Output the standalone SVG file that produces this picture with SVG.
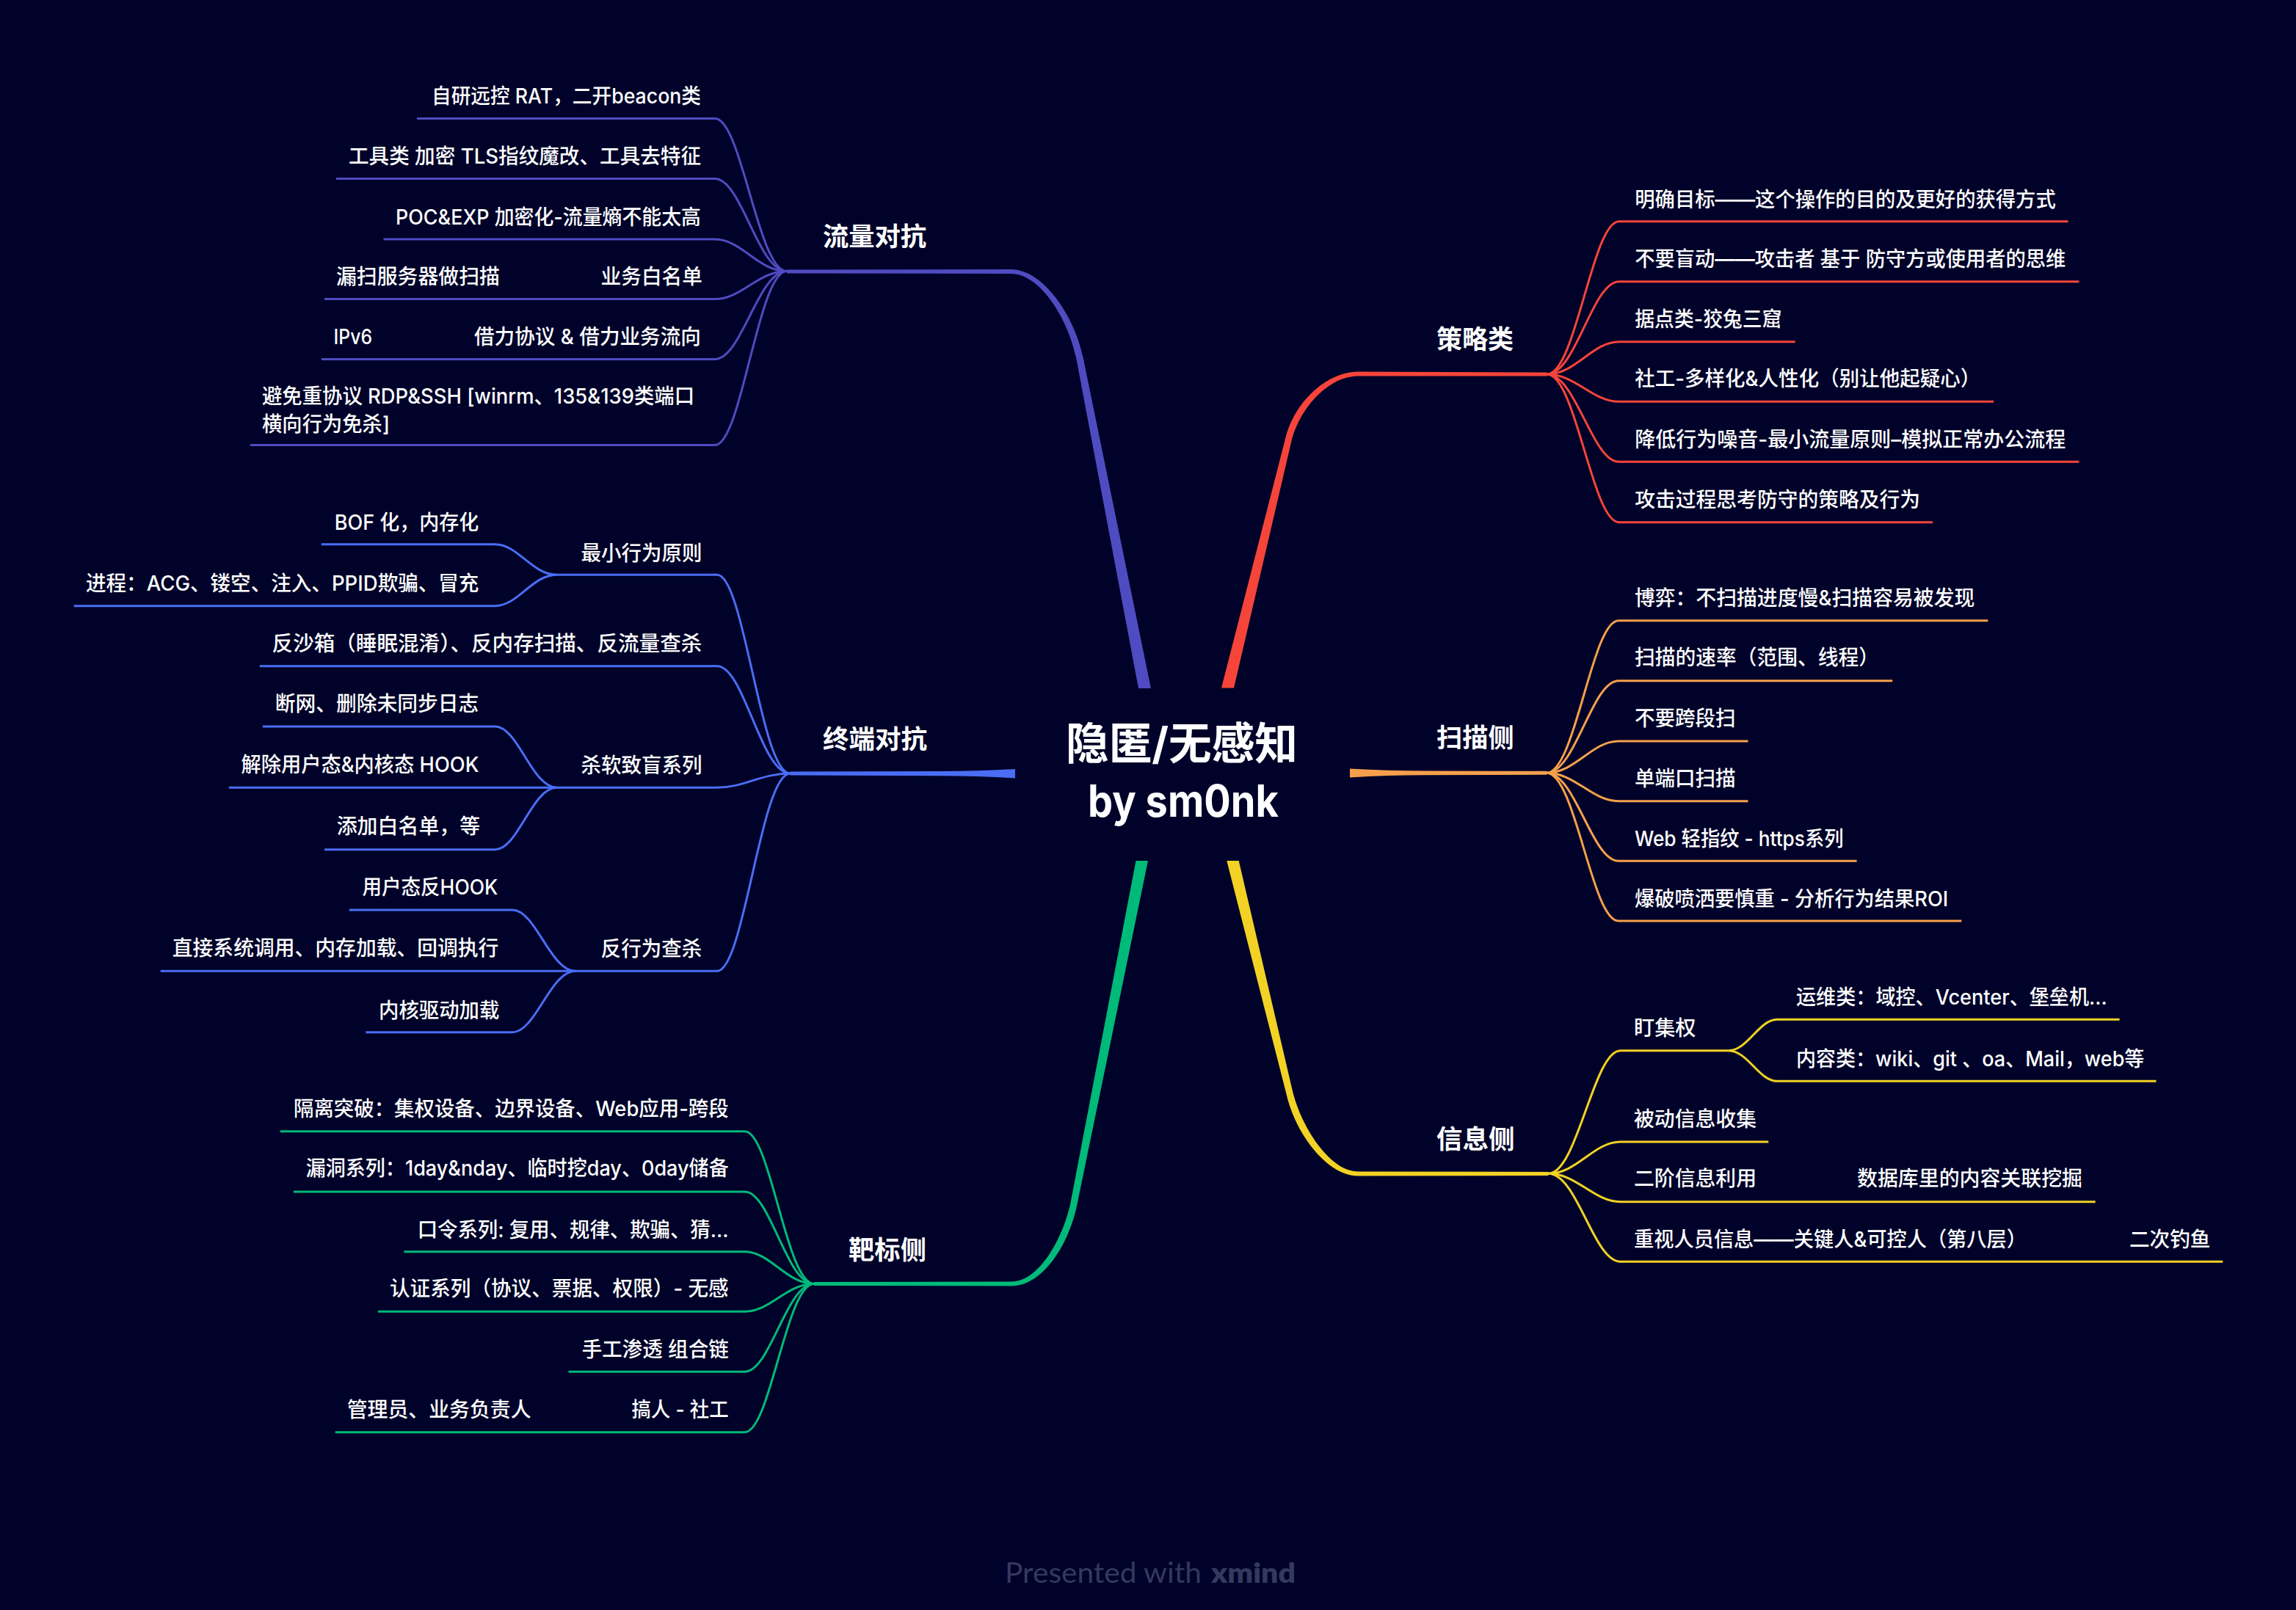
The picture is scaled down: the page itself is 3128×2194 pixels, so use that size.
<svg xmlns="http://www.w3.org/2000/svg" width="3128" height="2194" viewBox="0 0 3128 2194">
<defs>
<style>
.t{font-family:Inter,"Noto Sans CJK SC","Noto Sans",sans-serif;fill:#ffffff}
.c{font-size:28px;font-weight:500}
.m{font-size:35px;font-weight:700}
.ctr{font-size:60px;font-weight:700}
.ln{fill:none;stroke-width:3;stroke-linecap:butt}
.p1{stroke:#4F4BC1}.f1{fill:#4F4BC1}
.p2{stroke:#4A6DF5}.f2{fill:#4A6DF5}
.p3{stroke:#00BA7A}.f3{fill:#00BA7A}
.p4{stroke:#F5453A}.f4{fill:#F5453A}
.p5{stroke:#F6A04C}.f5{fill:#F6A04C}
.p6{stroke:#F2D224}.f6{fill:#F2D224}
.foot{font-family:Lato,"Open Sans",sans-serif;font-size:38px;fill:#35385F}
</style>
</defs>
<rect x="0" y="0" width="3128" height="2194" fill="#000229"/>

<g id="connectors">
<!-- main branches -->
<path class="f1" d="M1568,938 L1475.8,488 C1464.5,432 1422,367 1377,367 L1072,367.5 L1072,372.5 L1377,373 C1418,373 1455.5,436 1466.2,488 L1551,938 Z"/>
<path class="f2" d="M1383,1048 Q1330,1051 1280,1051 L1076.5,1051.6 L1076.5,1056.6 L1280,1057.2 Q1330,1057.2 1383,1060.4 Z"/>
<path class="f3" d="M1547.5,1173 L1458.3,1640 C1448,1687 1416,1746.5 1378,1746.5 L1109,1747 L1109,1752 L1378,1752.5 C1421,1752.5 1457,1695 1467.7,1640 L1564,1173 Z"/>
<path class="f4" d="M1664,937.5 L1750.5,600 C1762,548 1808,506.5 1850,506.5 L2107.6,507.5 L2107.6,512.5 L1850,512.5 C1812,512.5 1772,553 1759.7,600 L1681,937.5 Z"/>
<path class="f5" d="M1839,1047.5 Q1892,1050.5 1942,1050.5 L2107,1050.8 L2107,1055.8 L1942,1056.2 Q1892,1056.2 1839,1059.5 Z"/>
<path class="f6" d="M1671.3,1173 L1752.3,1490 C1764,1544 1808,1602.5 1850,1602.5 L2109.5,1602 L2109.5,1597 L1850,1596.5 C1812,1596.5 1774,1537 1761.7,1490 L1687.7,1173 Z"/>

<!-- 流量对抗 children -->
<path class="ln p1" d="M1072,369.6 C1032.8,369.6 1010.3,161.6 974,161.6 H568"/>
<path class="ln p1" d="M1072,369.6 C1032.8,369.6 1010.3,243.6 974,243.6 H458"/>
<path class="ln p1" d="M1072,369.6 C1032.8,369.6 1010.3,326 974,326 H522.5"/>
<path class="ln p1" d="M1072,369.6 C1032.8,369.6 1010.3,407.5 974,407.5 H442"/>
<path class="ln p1" d="M1072,369.6 C1032.8,369.6 1010.3,489.5 974,489.5 H438"/>
<path class="ln p1" d="M1072,369.6 C1032.8,369.6 1010.3,606.5 974,606.5 H341"/>

<!-- 终端对抗 children -->
<path class="ln p2" d="M1076.5,1054 C1036.7,1054 1013.8,783.3 977,783.3 H758.5"/>
<path class="ln p2" d="M1076.5,1054 C1036.7,1054 1013.8,907.7 977,907.7 H353.8"/>
<path class="ln p2" d="M1076.5,1054 C1036.7,1054 1013.8,1073.3 977,1073.3 H758.5"/>
<path class="ln p2" d="M1076.5,1054 C1036.7,1054 1013.8,1323.3 977,1323.3 H784"/>
<path class="ln p2" d="M758.5,783.3 C724.9,783.3 705.6,741.7 674.5,741.7 H437.7"/>
<path class="ln p2" d="M758.5,783.3 C724.9,783.3 705.6,825.7 674.5,825.7 H100.8"/>
<path class="ln p2" d="M758.5,1073.3 C724.9,1073.3 705.6,990 674.5,990 H358"/>
<path class="ln p2" d="M758.5,1073.3 H311.8"/>
<path class="ln p2" d="M758.5,1073.3 C724.9,1073.3 705.6,1157.7 674.5,1157.7 H442"/>
<path class="ln p2" d="M784,1323.3 C749.6,1323.3 729.8,1240 698,1240 H475.8"/>
<path class="ln p2" d="M784,1323.3 H218.7"/>
<path class="ln p2" d="M784,1323.3 C749.6,1323.3 729.8,1406.7 698,1406.7 H498.3"/>

<!-- 靶标侧 children -->
<path class="ln p3" d="M1109,1749.5 C1071.2,1749.5 1049.5,1541.7 1014.5,1541.7 H381.8"/>
<path class="ln p3" d="M1109,1749.5 C1071.2,1749.5 1049.5,1624 1014.5,1624 H400"/>
<path class="ln p3" d="M1109,1749.5 C1071.2,1749.5 1049.5,1705.7 1014.5,1705.7 H550.5"/>
<path class="ln p3" d="M1109,1749.5 C1071.2,1749.5 1049.5,1787.3 1014.5,1787.3 H515"/>
<path class="ln p3" d="M1109,1749.5 C1071.2,1749.5 1049.5,1869.3 1014.5,1869.3 H774.5"/>
<path class="ln p3" d="M1109,1749.5 C1071.2,1749.5 1049.5,1951.7 1014.5,1951.7 H456.7"/>

<!-- 策略类 children -->
<path class="ln p4" d="M2107.6,510 C2146.8,510 2169.3,301.7 2205.7,301.7 H2817.6"/>
<path class="ln p4" d="M2107.6,510 C2146.8,510 2169.3,383.7 2205.7,383.7 H2832.5"/>
<path class="ln p4" d="M2107.6,510 C2146.8,510 2169.3,465.7 2205.7,465.7 H2445.7"/>
<path class="ln p4" d="M2107.6,510 C2146.8,510 2169.3,547.3 2205.7,547.3 H2716.2"/>
<path class="ln p4" d="M2107.6,510 C2146.8,510 2169.3,629.3 2205.7,629.3 H2832.5"/>
<path class="ln p4" d="M2107.6,510 C2146.8,510 2169.3,711.7 2205.7,711.7 H2633"/>

<!-- 扫描侧 children -->
<path class="ln p5" d="M2107,1053.3 C2146.2,1053.3 2168.7,845.7 2205,845.7 H2708.3"/>
<path class="ln p5" d="M2107,1053.3 C2146.2,1053.3 2168.7,927.7 2205,927.7 H2578.2"/>
<path class="ln p5" d="M2107,1053.3 C2146.2,1053.3 2168.7,1010 2205,1010 H2381.5"/>
<path class="ln p5" d="M2107,1053.3 C2146.2,1053.3 2168.7,1091.7 2205,1091.7 H2381.5"/>
<path class="ln p5" d="M2107,1053.3 C2146.2,1053.3 2168.7,1173.3 2205,1173.3 H2529.6"/>
<path class="ln p5" d="M2107,1053.3 C2146.2,1053.3 2168.7,1255 2205,1255 H2672.3"/>

<!-- 信息侧 children -->
<path class="ln p6" d="M2109.5,1599.3 C2148.7,1599.3 2171.2,1431.7 2207.5,1431.7 H2354.7"/>
<path class="ln p6" d="M2109.5,1599.3 C2148.7,1599.3 2171.2,1556 2207.5,1556 H2409.3"/>
<path class="ln p6" d="M2109.5,1599.3 C2148.7,1599.3 2171.2,1637.7 2207.5,1637.7 H2854.7"/>
<path class="ln p6" d="M2109.5,1599.3 C2148.7,1599.3 2171.2,1719.3 2207.5,1719.3 H3028.3"/>
<path class="ln p6" d="M2354.7,1431.7 C2381,1431.7 2396.3,1389.3 2421,1389.3 H2887.6"/>
<path class="ln p6" d="M2354.7,1431.7 C2381,1431.7 2396.3,1473.3 2421,1473.3 H2937.5"/>
</g>

<g id="n-center">
<text class="t ctr" x="1452" y="1035" textLength="316" lengthAdjust="spacingAndGlyphs">隐匿/无感知</text>
<text class="t ctr" x="1482" y="1113" textLength="260" lengthAdjust="spacingAndGlyphs">by sm0nk</text>
</g>

<g id="n-liuliang">
<text class="t m" x="1121" y="335" textLength="141" lengthAdjust="spacingAndGlyphs">流量对抗</text>
</g>
<g id="n-ll-1"><text class="t c" x="588" y="141" textLength="367" lengthAdjust="spacingAndGlyphs">自研远控 RAT，二开beacon类</text></g>
<g id="n-ll-2"><text class="t c" x="475" y="222.6" textLength="480" lengthAdjust="spacingAndGlyphs">工具类 加密 TLS指纹魔改、工具去特征</text></g>
<g id="n-ll-3"><text class="t c" x="539" y="305.6" textLength="416" lengthAdjust="spacingAndGlyphs">POC&amp;EXP 加密化-流量熵不能太高</text></g>
<g id="n-ll-4"><text class="t c" x="458" y="386.6" textLength="223" lengthAdjust="spacingAndGlyphs">漏扫服务器做扫描</text><text class="t c" x="818.5" y="386.6" textLength="138.5" lengthAdjust="spacingAndGlyphs">业务白名单</text></g>
<g id="n-ll-5"><text class="t c" x="454.5" y="468.6" textLength="52.5" lengthAdjust="spacingAndGlyphs">IPv6</text><text class="t c" x="646" y="468.6" textLength="309" lengthAdjust="spacingAndGlyphs">借力协议 &amp; 借力业务流向</text></g>
<g id="n-ll-6"><text class="t c" x="357" y="549.6" textLength="589" lengthAdjust="spacingAndGlyphs">避免重协议 RDP&amp;SSH [winrm、135&amp;139类端口</text><text class="t c" x="357" y="587.6" textLength="174" lengthAdjust="spacingAndGlyphs">横向行为免杀]</text></g>

<g id="n-zhongduan">
<text class="t m" x="1121" y="1020" textLength="142" lengthAdjust="spacingAndGlyphs">终端对抗</text>
</g>
<g id="n-zd-1"><text class="t c" x="791.4" y="763.6" textLength="165" lengthAdjust="spacingAndGlyphs">最小行为原则</text></g>
<g id="n-zd-1-1"><text class="t c" x="455.7" y="721.6" textLength="196.7" lengthAdjust="spacingAndGlyphs">BOF 化，内存化</text></g>
<g id="n-zd-1-2"><text class="t c" x="117" y="804.6" textLength="535.4" lengthAdjust="spacingAndGlyphs">进程：ACG、镂空、注入、PPID欺骗、冒充</text></g>
<g id="n-zd-2"><text class="t c" x="370.6" y="887.3" textLength="585.7" lengthAdjust="spacingAndGlyphs">反沙箱（睡眠混淆）、反内存扫描、反流量查杀</text></g>
<g id="n-zd-3"><text class="t c" x="791.4" y="1053" textLength="165" lengthAdjust="spacingAndGlyphs">杀软致盲系列</text></g>
<g id="n-zd-3-1"><text class="t c" x="374.8" y="968.6" textLength="277.6" lengthAdjust="spacingAndGlyphs">断网、删除未同步日志</text></g>
<g id="n-zd-3-2"><text class="t c" x="328.6" y="1052.3" textLength="323.8" lengthAdjust="spacingAndGlyphs">解除用户态&amp;内核态 HOOK</text></g>
<g id="n-zd-3-3"><text class="t c" x="458.7" y="1136.3" textLength="195.5" lengthAdjust="spacingAndGlyphs">添加白名单，等</text></g>
<g id="n-zd-4"><text class="t c" x="818.6" y="1303" textLength="137.7" lengthAdjust="spacingAndGlyphs">反行为查杀</text></g>
<g id="n-zd-4-1"><text class="t c" x="493.5" y="1218.6" textLength="184.8" lengthAdjust="spacingAndGlyphs">用户态反HOOK</text></g>
<g id="n-zd-4-2"><text class="t c" x="234.8" y="1302.3" textLength="444.6" lengthAdjust="spacingAndGlyphs">直接系统调用、内存加载、回调执行</text></g>
<g id="n-zd-4-3"><text class="t c" x="516" y="1386.6" textLength="164.4" lengthAdjust="spacingAndGlyphs">内核驱动加载</text></g>

<g id="n-babiao">
<text class="t m" x="1156" y="1716" textLength="106" lengthAdjust="spacingAndGlyphs">靶标侧</text>
</g>
<g id="n-bb-1"><text class="t c" x="400" y="1520.6" textLength="592.7" lengthAdjust="spacingAndGlyphs">隔离突破：集权设备、边界设备、Web应用-跨段</text></g>
<g id="n-bb-2"><text class="t c" x="416.7" y="1602.3" textLength="576" lengthAdjust="spacingAndGlyphs">漏洞系列：1day&amp;nday、临时挖day、0day储备</text></g>
<g id="n-bb-3"><text class="t c" x="568.7" y="1685.6" textLength="424" lengthAdjust="spacingAndGlyphs">口令系列: 复用、规律、欺骗、猜...</text></g>
<g id="n-bb-4"><text class="t c" x="531" y="1765.6" textLength="461.7" lengthAdjust="spacingAndGlyphs">认证系列（协议、票据、权限）- 无感</text></g>
<g id="n-bb-5"><text class="t c" x="792.7" y="1848.6" textLength="200" lengthAdjust="spacingAndGlyphs">手工渗透 组合链</text></g>
<g id="n-bb-6"><text class="t c" x="472.7" y="1931.3" textLength="250.9" lengthAdjust="spacingAndGlyphs">管理员、业务负责人</text><text class="t c" x="860.4" y="1931.3" textLength="132.3" lengthAdjust="spacingAndGlyphs">搞人 - 社工</text></g>

<g id="n-celue">
<text class="t m" x="1957" y="475" textLength="105" lengthAdjust="spacingAndGlyphs">策略类</text>
</g>
<g id="n-cl-1"><text class="t c" x="2227.3" y="281.6" textLength="573.4" lengthAdjust="spacingAndGlyphs">明确目标——这个操作的目的及更好的获得方式</text></g>
<g id="n-cl-2"><text class="t c" x="2227.3" y="363" textLength="586.9" lengthAdjust="spacingAndGlyphs">不要盲动——攻击者 基于 防守方或使用者的思维</text></g>
<g id="n-cl-3"><text class="t c" x="2227.3" y="444.6" textLength="200.2" lengthAdjust="spacingAndGlyphs">据点类-狡兔三窟</text></g>
<g id="n-cl-4"><text class="t c" x="2227.3" y="526.4" textLength="471" lengthAdjust="spacingAndGlyphs">社工-多样化&amp;人性化（别让他起疑心）</text></g>
<g id="n-cl-5"><text class="t c" x="2227.3" y="608.6" textLength="586.9" lengthAdjust="spacingAndGlyphs">降低行为噪音-最小流量原则–模拟正常办公流程</text></g>
<g id="n-cl-6"><text class="t c" x="2227.3" y="691.4" textLength="388.7" lengthAdjust="spacingAndGlyphs">攻击过程思考防守的策略及行为</text></g>

<g id="n-saomiao">
<text class="t m" x="1957" y="1018.3" textLength="105.6" lengthAdjust="spacingAndGlyphs">扫描侧</text>
</g>
<g id="n-sm-1"><text class="t c" x="2226.9" y="824.6" textLength="463.4" lengthAdjust="spacingAndGlyphs">博弈：不扫描进度慢&amp;扫描容易被发现</text></g>
<g id="n-sm-2"><text class="t c" x="2226.9" y="906.4" textLength="333" lengthAdjust="spacingAndGlyphs">扫描的速率（范围、线程）</text></g>
<g id="n-sm-3"><text class="t c" x="2226.9" y="989.3" textLength="137.8" lengthAdjust="spacingAndGlyphs">不要跨段扫</text></g>
<g id="n-sm-4"><text class="t c" x="2226.9" y="1070.6" textLength="137.8" lengthAdjust="spacingAndGlyphs">单端口扫描</text></g>
<g id="n-sm-5"><text class="t c" x="2226.9" y="1152.5" textLength="284.7" lengthAdjust="spacingAndGlyphs">Web 轻指纹 - https系列</text></g>
<g id="n-sm-6"><text class="t c" x="2226.9" y="1234.6" textLength="427.4" lengthAdjust="spacingAndGlyphs">爆破喷洒要慎重 - 分析行为结果ROI</text></g>

<g id="n-xinxi">
<text class="t m" x="1956.8" y="1565" textLength="107" lengthAdjust="spacingAndGlyphs">信息侧</text>
</g>
<g id="n-xx-1"><text class="t c" x="2226" y="1410.6" textLength="84.5" lengthAdjust="spacingAndGlyphs">盯集权</text></g>
<g id="n-xx-1-1"><text class="t c" x="2447" y="1368.6" textLength="423.7" lengthAdjust="spacingAndGlyphs">运维类：域控、Vcenter、堡垒机...</text></g>
<g id="n-xx-1-2"><text class="t c" x="2447" y="1453" textLength="474.4" lengthAdjust="spacingAndGlyphs">内容类：wiki、git 、oa、Mail，web等</text></g>
<g id="n-xx-2"><text class="t c" x="2226" y="1534.6" textLength="167" lengthAdjust="spacingAndGlyphs">被动信息收集</text></g>
<g id="n-xx-3"><text class="t c" x="2226" y="1616.4" textLength="167" lengthAdjust="spacingAndGlyphs">二阶信息利用</text><text class="t c" x="2530" y="1616.4" textLength="307" lengthAdjust="spacingAndGlyphs">数据库里的内容关联挖掘</text></g>
<g id="n-xx-4"><text class="t c" x="2226" y="1698.6" textLength="535" lengthAdjust="spacingAndGlyphs">重视人员信息——关键人&amp;可控人（第八层）</text><text class="t c" x="2901" y="1698.6" textLength="110.4" lengthAdjust="spacingAndGlyphs">二次钓鱼</text></g>

<g id="footer">
<text class="foot" x="1369" y="2157" textLength="268" lengthAdjust="spacingAndGlyphs">Presented with</text>
<text class="foot" x="1650" y="2157" font-weight="800" textLength="115" lengthAdjust="spacingAndGlyphs">xmind</text>
</g>
</svg>
